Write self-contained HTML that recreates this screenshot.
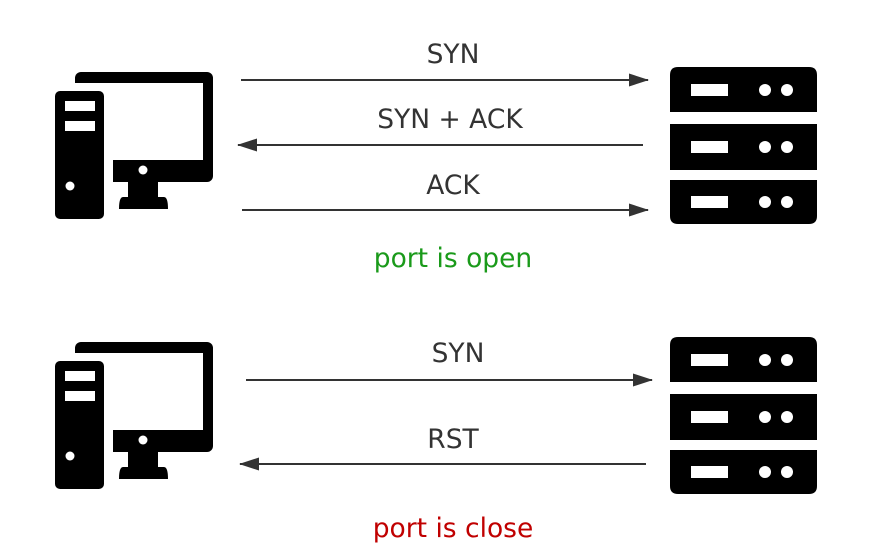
<!DOCTYPE html>
<html><head><meta charset="utf-8"><style>
body{margin:0;background:#fff;}
svg{display:block}
text{font-family:"DejaVu Sans","Liberation Sans",sans-serif;font-size:26.5px;text-anchor:middle;fill:#333}
</style></head><body>
<svg width="884" height="557" viewBox="0 0 884 557" xmlns="http://www.w3.org/2000/svg">
<defs>
<g id="pc">
<rect x="75" y="72" width="138" height="110" rx="6" fill="#000"/>
<rect x="75" y="83" width="128" height="77" fill="#fff"/>
<rect x="70" y="160" width="43" height="24" fill="#fff"/>
<circle cx="143" cy="170" r="4.5" fill="#fff"/>
<rect x="128" y="182" width="30" height="15" fill="#000"/>
<path d="M123 197 H164 Q168 197 168 209 H119 Q119 197 123 197 Z" fill="#000"/>
<rect x="55" y="91" width="49" height="128" rx="5" fill="#000"/>
<rect x="65" y="101" width="30" height="10" fill="#fff"/>
<rect x="65" y="121" width="30" height="10" fill="#fff"/>
<circle cx="70" cy="186" r="4.5" fill="#fff"/>
</g>
<g id="unit">
<rect x="691" y="0" width="37" height="12" fill="#fff"/>
<circle cx="765" cy="6" r="6" fill="#fff"/>
<circle cx="787" cy="6" r="6" fill="#fff"/>
</g>
<g id="srv">
<path d="M678 67 H809 Q817 67 817 75 V112 H670 V75 Q670 67 678 67 Z" fill="#000"/>
<rect x="670" y="124" width="147" height="46" fill="#000"/>
<path d="M670 180 H817 V216 Q817 224 809 224 H678 Q670 224 670 216 Z" fill="#000"/>
<use href="#unit" y="84"/>
<use href="#unit" y="141"/>
<use href="#unit" y="196"/>
</g>
<marker id="ah" markerWidth="20" markerHeight="13" refX="19" refY="6.5" orient="auto" markerUnits="userSpaceOnUse">
<path d="M0 0 L20 6.5 L0 13 Z" fill="#333"/>
</marker>
</defs>
<use href="#pc"/>
<use href="#srv"/>
<use href="#pc" y="270"/>
<use href="#srv" y="270"/>
<g stroke="#333" stroke-width="2" marker-end="url(#ah)">
<line x1="241" y1="80" x2="648" y2="80"/>
<line x1="643" y1="145" x2="238" y2="145"/>
<line x1="242" y1="210" x2="648" y2="210"/>
<line x1="246" y1="380" x2="652" y2="380"/>
<line x1="646" y1="464" x2="240" y2="464"/>
</g>
<text x="453" y="63">SYN</text>
<text x="450" y="128">SYN + ACK</text>
<text x="453" y="194">ACK</text>
<text x="453" y="267" style="fill:#1a9a1a">port is open</text>
<text x="458" y="362">SYN</text>
<text x="453" y="448">RST</text>
<text x="453" y="537" style="fill:#c00000">port is close</text>
</svg>
</body></html>
